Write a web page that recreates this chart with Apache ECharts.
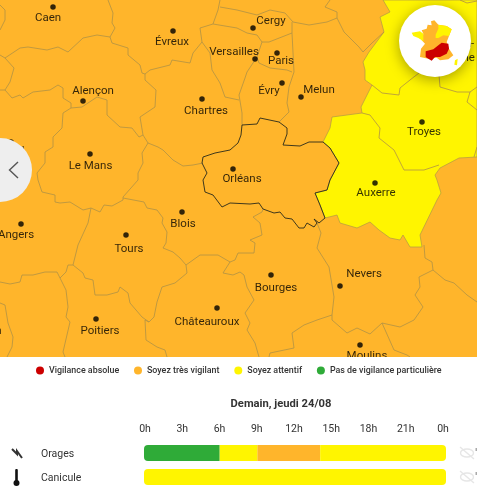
<!DOCTYPE html>
<html>
<head>
<meta charset="utf-8">
<style>
html, body { margin: 0; padding: 0; background: #fff; }
#vigilance { width: 477px; height: 493px; }
</style>
<script src="https://cdn.jsdelivr.net/npm/echarts@6/dist/echarts.min.js"></script>
</head>
<body>
<div id="vigilance"></div>
<script>
// map units below are the pixels of the source picture, the geo scales them
var cities = ['Caen', 'Évreux', 'Cergy', 'Versailles', 'Paris', 'Évry', 'Melun', 'Alençon', 'Chartres', 'Le Mans', 'Laval',
    'Orléans', 'Troyes', 'Auxerre', 'Angers', 'Blois', 'Tours', 'Nevers', 'Bourges', 'Poitiers', 'Châteauroux', 'Moulins',
    'La Roche-sur-Yon', 'Châlons-en-\nChampagne'];
var citySites = [[53, 7], [173, 31], [253, 28], [255, 59], [277, 53], [282, 83], [301, 97], [83, 101], [202, 99], [90, 154], [11, 142],
    [233, 169], [422, 122], [375, 183], [21, 224], [182, 212], [126, 235], [340, 286], [271, 275], [96, 319], [217, 308], [360, 345],
    [-43, 320], [444, 33]];

var wholeMap = [[0, 0], [477, 0], [477, 357], [0, 357]];
var yellowZone = [[383, 0], [390, 12], [380, 17], [384, 32], [369, 52], [363, 62], [365, 70], [365, 80], [372, 85], [361, 107], [362, 113],
    [332, 117], [330, 128], [323, 142], [330, 148], [339, 163], [330, 180], [327, 190], [315, 193], [320, 205], [325, 218], [337, 215],
    [340, 223], [357, 228], [370, 222], [379, 230], [390, 238], [400, 240], [403, 235], [410, 247], [422, 247], [420, 235], [437, 200],
    [441, 193], [437, 180], [435, 175], [440, 168], [459, 158], [477, 157], [477, 0]];

var loiretOutline = [[242, 125], [241, 135], [238, 143], [230, 150], [215, 153], [203, 157], [202, 163], [207, 173], [203, 180], [205, 192],
    [213, 195], [222, 207], [230, 203], [250, 204], [259, 203], [263, 209], [274, 213], [280, 212], [285, 218], [292, 219], [299, 228],
    [304, 228], [307, 223], [314, 227], [317, 223], [314, 219], [319, 223], [325, 218], [320, 205], [315, 193], [327, 190], [330, 180],
    [339, 163], [330, 148], [323, 142], [309, 142], [300, 146], [283, 145], [287, 134], [287, 128], [279, 122], [260, 118], [257, 124], [242, 125]];

var departmentBorders = [
    [[0, 55], [5, 58], [20, 48], [28, 47], [47, 50], [58, 47], [68, 52], [83, 38], [97, 35], [110, 37], [112, 43], [128, 48], [128, 55], [140, 65], [142, 73], [145, 74]],
    [[110, 37], [115, 28], [112, 23], [113, 13], [108, 0]],
    [[0, 30], [5, 20], [5, 10], [0, 5]],
    [[5, 58], [14, 68], [10, 82], [5, 90], [12, 98], [20, 95], [23, 98], [33, 92], [50, 90], [58, 85], [63, 88], [63, 98], [71, 103], [71, 108], [82, 107], [97, 97], [107, 100], [107, 115], [120, 127], [132, 128], [139, 137], [143, 135], [148, 143]],
    [[0, 90], [5, 90]],
    [[71, 108], [63, 113], [62, 128], [53, 137], [53, 147], [45, 152], [45, 163], [37, 173], [38, 180], [42, 192], [55, 195], [55, 202], [60, 203], [70, 202], [83, 210], [91, 208], [100, 212], [104, 205], [112, 206], [123, 200], [123, 197], [138, 180], [138, 173], [143, 163], [142, 153], [148, 143]],
    [[148, 143], [158, 147], [163, 150], [173, 160], [183, 166], [193, 165], [203, 163]],
    [[143, 135], [140, 117], [155, 107], [156, 90], [145, 80], [145, 74], [150, 70], [170, 65], [172, 60], [190, 63], [193, 53], [202, 42], [200, 28], [213, 24], [218, 10], [220, 0]],
    [[220, 7], [237, 10], [257, 15], [270, 10], [285, 13], [293, 22], [309, 25], [327, 22], [337, 18], [337, 12], [325, 7], [330, 0]],
    [[213, 24], [237, 28], [247, 33], [257, 35], [262, 42], [269, 42], [292, 33], [292, 22]],
    [[202, 42], [210, 53], [212, 70], [220, 83], [225, 97], [239, 100]],
    [[262, 42], [257, 57], [247, 72], [245, 78], [239, 95], [242, 113], [242, 125]],
    [[257, 57], [259, 63], [270, 68], [287, 70], [292, 72]],
    [[292, 33], [294, 72], [289, 87], [287, 103], [289, 112], [279, 122]],
    [[337, 18], [344, 32], [359, 47], [363, 52], [372, 43], [384, 32]],
    [[372, 85], [382, 93], [399, 95], [400, 88], [410, 80], [419, 73]],
    [[439, 75], [440, 87], [457, 92], [470, 92], [477, 87]],
    [[470, 92], [467, 102], [477, 110]],
    [[362, 113], [370, 115], [380, 128], [379, 138], [394, 150], [404, 170], [424, 170], [439, 165]],
    [[477, 147], [474, 157]],
    [[460, 0], [467, 3], [477, 1]],
    [[123, 198], [144, 202], [147, 208], [157, 210], [163, 218], [162, 223], [167, 232], [166, 243], [163, 248], [173, 252], [180, 258], [186, 265], [187, 273], [175, 283], [162, 287], [157, 302], [154, 317], [149, 322], [142, 317], [130, 303], [128, 293], [120, 287], [118, 292], [107, 295], [95, 295], [93, 280], [85, 278], [83, 273], [73, 265], [68, 265], [66, 272], [60, 278]],
    [[91, 208], [88, 223], [78, 245], [75, 257], [73, 265]],
    [[0, 282], [10, 284], [20, 282], [22, 275], [33, 275], [45, 272], [57, 272], [60, 278], [66, 290], [68, 307], [66, 317], [70, 322], [63, 352], [65, 357]],
    [[149, 322], [145, 320], [146, 340], [157, 347], [165, 350], [167, 357]],
    [[0, 303], [5, 305], [8, 323], [13, 337], [12, 347], [7, 357]],
    [[186, 265], [200, 255], [218, 255], [230, 262], [235, 260], [238, 253], [254, 253], [255, 243], [250, 240], [262, 235], [260, 223], [253, 217], [262, 212], [263, 209]],
    [[230, 262], [223, 273], [233, 275], [240, 272], [244, 275], [247, 287], [254, 300], [245, 313], [250, 323], [247, 330], [255, 343], [259, 357]],
    [[317, 223], [321, 233], [317, 248], [329, 267], [334, 297], [332, 315], [332, 320], [347, 333], [357, 328], [370, 334], [382, 323], [400, 327], [414, 320], [423, 307], [415, 295], [420, 287], [419, 277], [433, 270], [432, 262], [425, 258], [424, 245]],
    [[332, 315], [317, 320], [304, 325], [292, 333], [294, 348], [270, 353], [269, 357]],
    [[382, 323], [394, 350], [407, 355], [410, 357]],
    [[433, 270], [445, 280], [454, 283], [467, 295], [477, 302]]
];

// inset map of France, units are those of a 180x180 crop
var franceOutline = [[55, 65], [50, 55], [65, 50], [68, 38], [80, 40], [78, 28], [88, 25], [100, 38], [125, 42], [140, 52], [132, 72], [125, 90], [132, 110], [145, 130], [130, 142], [105, 145], [95, 137], [70, 140], [45, 135], [48, 110], [60, 95], [50, 85]];
var franceNorthEast = [[100, 38], [125, 42], [140, 52], [132, 72], [115, 70], [100, 78], [92, 78], [92, 68], [100, 50]];
var franceWest = [[20, 62], [45, 58], [55, 65], [55, 88], [40, 78], [25, 72]];
var franceSouth = [[110, 92], [130, 95], [132, 110], [125, 125], [105, 135], [90, 135], [80, 146], [70, 140], [62, 135], [62, 118], [85, 112], [100, 100]];
var corsica = [[150, 145], [158, 140], [156, 160], [148, 158]];

var levelNames = ['Vigilance absolue', 'Soyez très vigilant', 'Soyez attentif', 'Pas de vigilance particulière'];
var levelColors = ['#cc0000', '#ffb52b', '#fff500', '#2fab38'];
var hourLabels = ['0h', '3h', '6h', '9h', '12h', '15h', '18h', '21h', '0h'];
var riskNames = ['Orages', 'Canicule'];
// [from hour, to hour, risk row]
var absoluteSpans = [];
var veryVigilantSpans = [[9, 14, 0]];
var attentiveSpans = [[6, 9, 0], [14, 24, 0], [0, 24, 1]];
var noRiskSpans = [[0, 6, 0]];

function zoneFeature(name, ring) {
    return {
        type: 'Feature',
        properties: { name: name },
        geometry: { type: 'Polygon', coordinates: [ring] }
    };
}

echarts.registerMap('zones', {
    type: 'FeatureCollection',
    features: [zoneFeature('orange', wholeMap), zoneFeature('yellow', yellowZone)]
});
echarts.registerMap('france', {
    type: 'FeatureCollection',
    features: [
        zoneFeature('france', franceOutline),
        zoneFeature('northEast', franceNorthEast),
        zoneFeature('west', franceWest),
        zoneFeature('south', franceSouth),
        zoneFeature('corsica', corsica)
    ]
});

var flatProjection = {
    project: function (p) { return p; },
    unproject: function (p) { return p; }
};

// offsets of the city names from their dot, in px
var labelShift = {
    'Caen': [-5, 11], 'Évreux': [-1, 11], 'Cergy': [18, -7], 'Versailles': [-21, -7], 'Paris': [4, 8], 'Évry': [-13, 8], 'Melun': [18, -7],
    'Alençon': [10, -10], 'Chartres': [4, 12], 'Le Mans': [0.5, 12], 'Laval': [0, 9], 'Orléans': [9, 10], 'Troyes': [2, 10], 'Auxerre': [1, 10],
    'Angers': [-5, 11], 'Blois': [1, 12], 'Tours': [3, 14], 'Nevers': [24, -12], 'Bourges': [5, 13], 'Poitiers': [4, 12], 'Châteauroux': [-10, 14],
    'Moulins': [7, 11], 'La Roche-sur-Yon': [0, 11], 'Châlons-en-\nChampagne': [0, 18]
};

var cityData = cities.map(function (name, i) {
    return {
        name: name,
        value: citySites[i],
        label: { offset: labelShift[name] }
    };
});

function renderSpan(params, api) {
    var from = api.value(0), to = api.value(1);
    var start = api.coord([from, api.value(2)]);
    var end = api.coord([to, api.value(2)]);
    var left = from === 0 ? 4 : 0;
    var right = to === 24 ? 4 : 0;
    return {
        type: 'rect',
        shape: { x: start[0], y: start[1] - 8, width: end[0] - start[0], height: 16, r: [left, right, right, left] },
        style: { fill: api.visual('color') }
    };
}

function spanSeries(name, spans) {
    return {
        name: name,
        type: 'custom',
        xAxisIndex: 0,
        yAxisIndex: 0,
        z: 8,
        renderItem: renderSpan,
        encode: { x: [0, 1], y: 2 },
        data: spans
    };
}

function eyeOff(cy) {
    return [
        { type: 'ellipse', z: 8, shape: { cx: 467, cy: cy, rx: 6.5, ry: 4 }, style: { fill: 'none', stroke: '#e6e6e6', lineWidth: 1.4 } },
        { type: 'line', z: 8, shape: { x1: 460, y1: cy - 6, x2: 474, y2: cy + 6 }, style: { stroke: '#e6e6e6', lineWidth: 1.4 } },
        { type: 'rect', z: 8, shape: { x: 475.5, y: cy - 5, width: 1.5, height: 3 }, style: { fill: '#aaa' } }
    ];
}

var myChart = echarts.init(document.getElementById('vigilance'));
var option = {
    animation: false,
    backgroundColor: '#fff',
    color: levelColors,
    textStyle: { fontFamily: 'Roboto' },
    title: {
        text: 'Demain, jeudi 24/08',
        left: 281,
        top: 399,
        textAlign: 'center',
        padding: 0,
        z: 8,
        textStyle: { fontSize: 11.2, fontWeight: 'bold', color: '#333', fontFamily: 'Roboto' }
    },
    legend: {
        data: levelNames,
        left: 36,
        top: 366,
        padding: 0,
        itemWidth: 8,
        itemHeight: 8,
        itemGap: 14.8,
        icon: 'circle',
        selectedMode: false,
        z: 8,
        textStyle: { fontSize: 8.9, fontWeight: 500, color: '#333', fontFamily: 'Roboto' }
    },
    geo: [{
        map: 'zones',
        projection: flatProjection,
        boundingCoords: [[0, 0], [477, 357]],
        left: 0,
        top: 0,
        width: 477,
        height: 357,
        silent: true,
        z: 1,
        label: { show: false },
        itemStyle: { areaColor: levelColors[1], borderWidth: 0 },
        regions: [{
            name: 'yellow',
            itemStyle: { areaColor: levelColors[2], borderColor: '#b09a45', borderWidth: 0.7 }
        }]
    }, {
        map: 'france',
        projection: flatProjection,
        boundingCoords: [[0, 0], [180, 180]],
        left: 405,
        top: 12,
        width: 60,
        height: 60,
        silent: true,
        z: 5,
        label: { show: false },
        itemStyle: { areaColor: levelColors[1], borderWidth: 0 },
        regions: [
            { name: 'northEast', itemStyle: { areaColor: levelColors[2] } },
            { name: 'west', itemStyle: { areaColor: levelColors[2] } },
            { name: 'corsica', itemStyle: { areaColor: levelColors[2] } },
            { name: 'south', itemStyle: { areaColor: levelColors[0] } }
        ]
    }],
    grid: [
        { left: 144, width: 302, top: 441, height: 48 },
        { left: 145, width: 298, top: 435, height: 1 }
    ],
    xAxis: [{
        type: 'value',
        gridIndex: 0,
        min: 0,
        max: 24,
        show: false
    }, {
        type: 'category',
        gridIndex: 1,
        position: 'top',
        boundaryGap: false,
        data: hourLabels,
        z: 8,
        axisLine: { show: false },
        axisTick: { show: false },
        axisLabel: { interval: 0, margin: 0, fontSize: 10.5, color: '#333', fontFamily: 'Roboto' }
    }],
    yAxis: [{
        type: 'category',
        gridIndex: 0,
        inverse: true,
        data: riskNames,
        z: 8,
        axisLine: { show: false },
        axisTick: { show: false },
        axisLabel: { margin: 103, align: 'left', verticalAlign: 'top', lineHeight: 2, fontSize: 10.5, color: '#333', fontFamily: 'Roboto' }
    }, {
        type: 'value',
        gridIndex: 1,
        show: false
    }],
    graphic: { elements: [
        { type: 'circle', z: 4, shape: { cx: 435, cy: 41, r: 36 }, style: { fill: '#fff', shadowBlur: 14, shadowOffsetY: 3, shadowColor: 'rgba(0,0,0,0.35)' } },
        { type: 'circle', z: 4, shape: { cx: 0, cy: 170, r: 32 }, style: { fill: '#eeeeee' } },
        { type: 'polyline', z: 4, shape: { points: [[18, 162], [9.5, 170], [18, 178]] }, style: { fill: 'none', stroke: '#555', lineWidth: 1.4 } },
        { type: 'rect', z: 7, shape: { x: 0, y: 357, width: 477, height: 136 }, style: { fill: '#fff' } },
        { type: 'polyline', z: 8, shape: { points: [[12, 449], [17, 454], [17, 451], [22, 458]] }, style: { fill: 'none', stroke: '#333', lineWidth: 2 } },
        { type: 'rect', z: 8, shape: { x: 15.2, y: 469, width: 2.6, height: 13, r: 1 }, style: { fill: '#111' } },
        { type: 'circle', z: 8, shape: { cx: 16.5, cy: 483, r: 3 }, style: { fill: '#111' } }
    ].concat(eyeOff(453), eyeOff(477)) },
    series: [{
        type: 'lines',
        coordinateSystem: 'geo',
        geoIndex: 0,
        polyline: true,
        silent: true,
        z: 2,
        lineStyle: { color: '#b09245', width: 0.8, opacity: 1 },
        data: departmentBorders.map(function (line) { return { coords: line }; })
    }, {
        type: 'lines',
        coordinateSystem: 'geo',
        geoIndex: 0,
        polyline: true,
        silent: true,
        z: 2,
        lineStyle: { color: '#2a2a1a', width: 0.9, opacity: 1 },
        data: [{ coords: loiretOutline }]
    }, {
        type: 'scatter',
        coordinateSystem: 'geo',
        geoIndex: 0,
        silent: true,
        symbolSize: 5.5,
        z: 3,
        itemStyle: { color: '#000' },
        label: {
            show: true,
            position: 'inside',
            formatter: '{b}',
            color: '#000',
            fontSize: 11.5,
            lineHeight: 14,
            fontFamily: 'Roboto'
        },
        data: cityData
    },
    spanSeries(levelNames[0], absoluteSpans),
    spanSeries(levelNames[1], veryVigilantSpans),
    spanSeries(levelNames[2], attentiveSpans),
    spanSeries(levelNames[3], noRiskSpans)]
};
myChart.setOption(option);
</script>
</body>
</html>
